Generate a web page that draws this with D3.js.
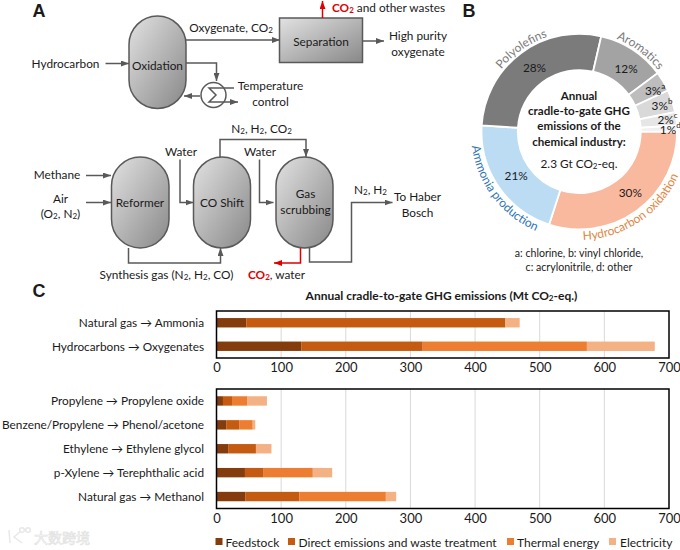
<!DOCTYPE html>
<html>
<head>
<meta charset="utf-8">
<script src="https://cdn.jsdelivr.net/npm/d3@7"></script>
<style>
  html, body { margin: 0; padding: 0; background: #fff; }
  svg { display: block; font-family: Lato, "Open Sans", sans-serif; }
  text { fill: #1a1a1a; }
</style>
</head>
<body>
<script>
// panel B: share of the donut as measured on the picture, and the printed labels
const ringNames = ["Hydrocarbon oxidation", "Ammonia production", "Polyolefins", "Aromatics", "a", "b", "c", "d"];
const ringShares = [30, 21, 27.6, 11.2, 3.3, 3.7, 2.2, 1];
const ringLabels = ["30%", "21%", "28%", "12%", "3%^a", "3%^b", "2%^c", "1%^d"];
const ringColors = ["#f9b99e", "#bcdcf3", "#7b7b7b", "#a3a3a3", "#bdbdbd", "#d9d9d9", "#e6e6e6", "#f0f0f0"];

// panel C: Mt CO2-eq. per route
const topRoutes = ["Natural gas → Ammonia", "Hydrocarbons → Oxygenates"];
const topFeedstock = [46, 131];
const topDirect = [401, 188];
const topThermal = [0, 254];
const topElectricity = [22, 105];

const lowRoutes = ["Propylene → Propylene oxide", "Benzene/Propylene → Phenol/acetone", "Ethylene → Ethylene glycol", "p-Xylene → Terephthalic acid", "Natural gas → Methanol"];
const lowFeedstock = [10, 15, 18, 44, 45];
const lowDirect = [14, 20, 43, 29, 83];
const lowThermal = [24, 21, 0, 76, 134];
const lowElectricity = [30, 4, 24, 30, 16];

const xTicks = [0, 100, 200, 300, 400, 500, 600, 700];
const legendNames = ["Feedstock", "Direct emissions and waste treatment", "Thermal energy", "Electricity"];
const barColors = ["#843c0c", "#c55a11", "#ed7d31", "#f4b183"];

const svg = d3.select("body").append("svg").attr("width", 680).attr("height", 550);
const defs = svg.append("defs");

const grad = defs.append("linearGradient").attr("id", "metal")
  .attr("x1", 0).attr("y1", 0).attr("x2", 1).attr("y2", 1);
grad.append("stop").attr("offset", "0%").attr("stop-color", "#e2e2e2");
grad.append("stop").attr("offset", "100%").attr("stop-color", "#888");

function marker(id, color) {
  defs.append("marker").attr("id", id)
    .attr("viewBox", "0 0 8 6").attr("refX", 8).attr("refY", 3)
    .attr("markerWidth", 8).attr("markerHeight", 6)
    .attr("markerUnits", "userSpaceOnUse").attr("orient", "auto")
    .append("path").attr("d", "M0,0L8,3L0,6Z").attr("fill", color);
}
marker("arrow", "#595959");
marker("arrowRed", "#e00000");

// writes "CO_2" / "3%^a" as real sub and superscripts
function rich(sel, str, size) {
  let back = 0;
  str.split(/([_^]\w)/).filter(s => s).forEach(part => {
    const small = size * 0.68;
    if (part[0] === "_" || part[0] === "^") {
      const shift = part[0] === "_" ? 3 : -4;
      sel.append("tspan").attr("dy", back + shift).attr("font-size", small).text(part[1]);
      back = -shift;
    } else {
      sel.append("tspan").attr("dy", back).text(part);
      back = 0;
    }
  });
  sel.property("backShift", back);
  return sel;
}

function label(str, x, y, opts) {
  const o = Object.assign({ size: 11.8, anchor: "middle", weight: "normal", fill: "#1a1a1a" }, opts);
  const t = svg.append("text").attr("x", x).attr("y", y)
    .attr("text-anchor", o.anchor).attr("font-size", o.size)
    .attr("font-weight", o.weight).style("fill", o.fill)
    .attr("dominant-baseline", "central");
  return rich(t, str, o.size);
}

function panelLetter(str, x, y) {
  svg.append("text").attr("x", x).attr("y", y).attr("text-anchor", "middle")
    .attr("font-family", "Liberation Sans").attr("font-weight", "bold")
    .attr("font-size", 18).text(str);
}
panelLetter("A", 39, 17);
panelLetter("B", 469, 17);
panelLetter("C", 39, 297);

// ---- panel A, process flow sheets ----
const flow = svg.append("g");

function vessel(x0, x1, y0, y1) {
  flow.append("rect").attr("x", x0).attr("y", y0).attr("width", x1 - x0).attr("height", y1 - y0)
    .attr("rx", (x1 - x0) / 2).attr("ry", (x1 - x0) / 2)
    .attr("fill", "url(#metal)").attr("stroke", "#595959").attr("stroke-width", 1.5);
}

function pipe(points, red, noHead) {
  flow.append("path").attr("d", d3.line()(points))
    .attr("fill", "none").attr("stroke", red ? "#e00000" : "#595959").attr("stroke-width", 1.5)
    .attr("marker-end", noHead ? null : (red ? "url(#arrowRed)" : "url(#arrow)"));
}

vessel(129, 186, 16, 108.5);
flow.append("rect").attr("x", 279.5).attr("y", 18).attr("width", 83).attr("height", 44.5)
  .attr("fill", "url(#metal)").attr("stroke", "#595959").attr("stroke-width", 1.5);
vessel(111.5, 169, 157, 248);
vessel(193.5, 250.5, 157, 248);
vessel(276, 333, 157, 248);

pipe([[186, 40], [280, 40]]);
pipe([[105.5, 63.5], [129, 63.5]]);
pipe([[186, 63], [216.5, 63], [216.5, 81]]);
pipe([[200, 96], [184, 96]]);
pipe([[362.5, 41], [384, 41]]);
pipe([[322.5, 18], [322.5, 1]], true);

flow.append("circle").attr("cx", 213.5).attr("cy", 95).attr("r", 12.5)
  .attr("fill", "#fff").attr("stroke", "#595959").attr("stroke-width", 1.5);
pipe([[234, 88], [209, 88], [216, 95], [209, 102], [238, 102]]);

pipe([[86, 175.5], [111, 175.5]]);
pipe([[86, 202.5], [111, 202.5]]);
pipe([[180, 159.5], [180, 202.5], [193.5, 202.5]]);
pipe([[259.5, 159.5], [259.5, 202.5], [273.5, 202.5]]);
pipe([[220, 157], [220, 139.5], [306, 139.5], [306, 157]]);
pipe([[128.5, 248], [128.5, 263], [220.5, 263], [220.5, 248]]);
pipe([[300.5, 248], [300.5, 263], [274, 263]], true);
pipe([[309.5, 248], [309.5, 262], [351.5, 262], [351.5, 202.5], [392.5, 202.5]]);

label("Hydrocarbon", 65.5, 63);
label("Oxidation", 157.5, 65);
label("Oxygenate, CO_2", 231, 27);
label("Separation", 321, 41);
label("High purity", 418, 35);
label("oxygenate", 418, 51);
label("Temperature", 270.5, 85);
label("control", 270.5, 100.5);
const waste = label("CO_2", 332, 7, { anchor: "start", weight: "bold", fill: "#e00000" });
waste.append("tspan").attr("dy", -3).attr("font-weight", "normal").style("fill", "#1a1a1a").text(" and other wastes");

label("N_2, H_2, CO_2", 261.5, 128);
label("Methane", 57, 173.5);
label("Air", 60.5, 197.5);
label("(O_2, N_2)", 60.5, 213);
label("Water", 181, 150.5);
label("Water", 260, 150.5);
label("Reformer", 140, 201.5);
label("CO Shift", 222, 201.5);
label("Gas", 305.5, 193);
label("scrubbing", 305.5, 209);
label("N_2, H_2", 370.5, 189);
label("To Haber", 417.5, 196);
label("Bosch", 417.5, 211.5);
label("Synthesis gas (N_2, H_2, CO)", 166.5, 273.5);
const co2Water = label("CO_2", 248, 273.5, { anchor: "start", weight: "bold", fill: "#e00000" });
co2Water.append("tspan").attr("dy", -3).attr("font-weight", "normal").style("fill", "#1a1a1a").text(", water");

// ---- panel B, donut ----
const cx = 579.3, cy = 131.6, rOut = 97.8, rIn = 61.5;
const ring = svg.append("g").attr("transform", `translate(${cx},${cy})`);
const pie = d3.pie().sort(null).value(d => d)
  .startAngle(Math.PI / 2).endAngle(Math.PI / 2 + 2 * Math.PI);
const slices = pie(ringShares);
const arc = d3.arc().innerRadius(rIn).outerRadius(rOut);

ring.selectAll("path.slice").data(slices).join("path")
  .attr("class", "slice")
  .attr("d", arc)
  .attr("fill", (d, i) => ringColors[i])
  .attr("stroke", "#fff").attr("stroke-width", 1.8);

// label radius and nudge per slice, the small ones crowd at the right edge
const pctRadius = [80, 80, 80, 80, 87, 86, 88, 91];
const pctNudge = [[4, -4], [3, -2], [3, 0], [3, 3], [1, 3], [1, 0], [1, -1], [0, 0]];
slices.forEach((d, i) => {
  const mid = (d.startAngle + d.endAngle) / 2;
  const r = pctRadius[i];
  const t = ring.append("text")
    .attr("x", Math.sin(mid) * r + pctNudge[i][0]).attr("y", -Math.cos(mid) * r + pctNudge[i][1])
    .attr("text-anchor", "middle").attr("dominant-baseline", "central")
    .attr("font-size", 11.8);
  rich(t, ringLabels[i], 11.8);
});

// names follow the outside of the ring
function ringName(idx, color, r, centerDeg, ccw) {
  const id = "ringPath" + idx;
  const span = 1.45;
  const c = (centerDeg - 90) * Math.PI / 180;
  const p = d3.path();
  if (ccw) {
    p.arc(0, 0, r, c + span, c - span, true);
  } else {
    p.arc(0, 0, r, c - span, c + span, false);
  }
  ring.append("path").attr("id", id).attr("d", p.toString()).attr("fill", "none");
  ring.append("text").attr("font-size", 12).style("fill", color)
    .append("textPath").attr("href", "#" + id)
    .attr("startOffset", "50%").attr("text-anchor", "middle")
    .text(ringNames[idx]);
}
ringName(0, "#e0873f", 108.5, 146, true);
ringName(1, "#2e75b6", 108.5, 233, true);
ringName(2, "#7b7b7b", 100, 325, false);
ringName(3, "#7b7b7b", 100, 37, false);

["Annual", "cradle-to-gate GHG", "emissions of the", "chemical industry:"].forEach((s, i) => {
  label(s, 579, 95 + i * 15.2, { weight: "bold", size: 11.6 });
});
label("2.3 Gt CO_2-eq.", 579, 163);
label("a: chlorine, b: vinyl chloride,", 579, 253, { size: 10.6 });
label("c: acrylonitrile, d: other", 579, 266.5, { size: 10.6 });

// ---- panel C, stacked bars ----
const x = d3.scaleLinear().domain([0, 700]).range([216.5, 669]);

function barPanel(routes, feed, direct, thermal, elec, y0, y1) {
  const rows = routes.map((name, i) => ({ name, s0: feed[i], s1: direct[i], s2: thermal[i], s3: elec[i] }));
  const y = d3.scaleBand().domain(routes).range([y0, y1]);
  const stacked = d3.stack().keys(["s0", "s1", "s2", "s3"])(rows);
  const g = svg.append("g");

  g.append("g").selectAll("line").data(xTicks.slice(1, -1)).join("line")
    .attr("x1", d => x(d)).attr("x2", d => x(d)).attr("y1", y0).attr("y2", y1)
    .attr("stroke", "#d9d9d9").attr("stroke-width", 1);

  const barH = 9.4;
  g.selectAll("g.series").data(stacked).join("g").attr("class", "series")
    .attr("fill", (d, i) => barColors[i])
    .selectAll("rect").data(d => d).join("rect")
    .attr("x", d => x(d[0]))
    .attr("width", d => x(d[1]) - x(d[0]))
    .attr("y", d => y(d.data.name) + (y.bandwidth() - barH) / 2)
    .attr("height", barH);

  g.append("rect").attr("x", x(0)).attr("y", y0).attr("width", x(700) - x(0)).attr("height", y1 - y0)
    .attr("fill", "none").attr("stroke", "#000").attr("stroke-width", 1.5);

  const axis = g.append("g").attr("transform", `translate(0,${y1})`)
    .call(d3.axisBottom(x).tickValues(xTicks).tickSize(0).tickPadding(5));
  axis.select(".domain").remove();
  axis.selectAll("text").attr("font-size", 13).attr("font-family", "Lato");

  g.selectAll("text.route").data(routes).join("text").attr("class", "route")
    .attr("x", 204).attr("y", d => y(d) + y.bandwidth() / 2)
    .attr("text-anchor", "end").attr("dominant-baseline", "central")
    .attr("font-size", 11.8).text(d => d);
}

barPanel(topRoutes, topFeedstock, topDirect, topThermal, topElectricity, 311, 358);
barPanel(lowRoutes, lowFeedstock, lowDirect, lowThermal, lowElectricity, 389, 508.5);

label("Annual cradle-to-gate GHG emissions (Mt CO_2-eq.)", 441.5, 295, { weight: "bold", size: 12 });

const legendSwatch = [215.5, 288, 507, 609];
const legendText = [225.5, 298.5, 517, 620];
legendNames.forEach((s, i) => {
  svg.append("rect").attr("x", legendSwatch[i]).attr("y", 538).attr("width", 7).attr("height", 7).attr("fill", barColors[i]);
  label(s, legendText[i], 541.5, { anchor: "start", size: 12 });
});

// watermark, bottom left
const mark = svg.append("g").attr("fill", "none").attr("stroke", "#e8e8e8").attr("stroke-width", 1.5);
mark.append("path").attr("d", "M9,530 L10,543 M21,531 L14,537 L22,543");
mark.append("circle").attr("cx", 22).attr("cy", 530).attr("r", 2.3);
mark.append("circle").attr("cx", 28).attr("cy", 530).attr("r", 2.3);
svg.append("text").attr("x", 34).attr("y", 543)
  .attr("font-family", "Noto Sans CJK SC").attr("font-size", 14)
  .style("fill", "#fff").attr("stroke", "#e2e2e2").attr("stroke-width", 0.7)
  .text("大数跨境");
</script>
</body>
</html>
